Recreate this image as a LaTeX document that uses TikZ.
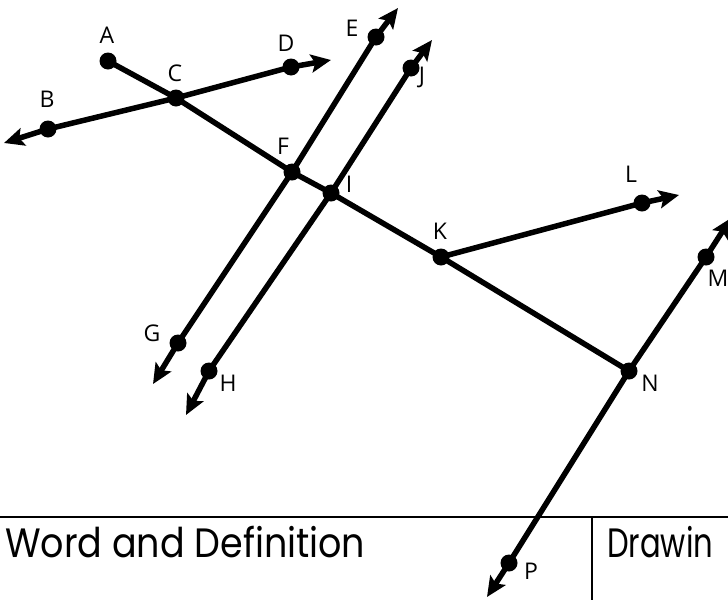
\documentclass[tikz,border=0pt]{standalone}
\usepackage{fontspec}
\setmainfont{Open Sans}
\newfontfamily\headfont{Poppins}
\usetikzlibrary{arrows.meta}
\begin{document}
\begin{tikzpicture}[x=1pt,y=-1pt,
  tip/.tip={Stealth[length=20pt,width=18pt,inset=4pt]},
  seg/.style={line width=5.5pt},
  ray/.style={line width=5.5pt,-tip},
  dbl/.style={line width=5.5pt,tip-tip},
  dot/.style={circle,fill=black,inner sep=0pt,minimum size=17pt},
  lbl/.style={font=\fontsize{23}{23}\selectfont,text depth=0pt,inner sep=0pt},
  head/.style={font=\headfont\fontsize{41}{41}\selectfont,inner sep=0pt,anchor=base west,xscale=0.89},
  rule/.style={line width=2pt}]
\useasboundingbox (0,0) rectangle (728,600);
% points
\coordinate (pA) at (108,61);
\coordinate (pB) at (48,129);
\coordinate (pC) at (176,98);
\coordinate (pD) at (291,67);
\coordinate (pE) at (376,37);
\coordinate (pF) at (292,172);
\coordinate (pG) at (178,343);
\coordinate (pH) at (209,371);
\coordinate (pI) at (331,193);
\coordinate (pJ) at (411,68);
\coordinate (pK) at (441,257);
\coordinate (pL) at (642,203);
\coordinate (pM) at (706,257);
\coordinate (pN) at (629,371);
\coordinate (pP) at (509,563);
% arrow ends
\coordinate (tB) at (4,143);
\coordinate (tD) at (331,60);
\coordinate (tE) at (398,8);
\coordinate (tG) at (153,384);
\coordinate (tH) at (186,415);
\coordinate (tJ) at (432,40);
\coordinate (tL) at (679,195);
\coordinate (tM) at (731,218);
\coordinate (tP) at (487,597);
% table
\draw[rule] (0,517) coordinate (r0) -- (728,517) coordinate (r1);
\draw[rule] (592,517) coordinate (v0) -- (592,600) coordinate (v1);
% lines
\draw[dbl] (tB) -- (pB) -- (pC) -- (pD) -- (tD);
\draw[seg] (pA) -- (pC) -- (pF) -- (pI) -- (pK) -- (pN);
\draw[dbl] (tG) -- (pG) -- (pF) -- (pE) -- (tE);
\draw[dbl] (tH) -- (pH) -- (pI) -- (pJ) -- (tJ);
\draw[ray] (pK) -- (pL) -- (tL);
\draw[dbl] (tP) -- (pP) -- (pN) -- (pM) -- (tM);
% dots
\foreach \p in {A,B,C,D,E,F,G,H,I,J,K,L,M,N,P}
  \node[dot] (\p) at (p\p) {};
% labels
\node[lbl] (lA) at (107,35) {A};
\node[lbl] (lB) at (47,99) {B};
\node[lbl] (lC) at (175,73) {C};
\node[lbl] (lD) at (286,43) {D};
\node[lbl] (lE) at (352,28) {E};
\node[lbl] (lF) at (283,146) {F};
\node[lbl] (lG) at (152,333) {G};
\node[lbl] (lH) at (228,383) {H};
\node[lbl] (lI) at (349,184) {I};
\node[lbl] (lJ) at (422,75) {J};
\node[lbl] (lK) at (440,231) {K};
\node[lbl] (lL) at (631,174) {L};
\node[lbl] (lM) at (718,278) {M};
\node[lbl] (lN) at (650,383) {N};
\node[lbl] (lP) at (531,571) {P};
% headers
\node[head] (word) at (5,557) {Word and Definition};
\node[head,xscale=0.84] (drw) at (607,557) {Drawin};
\end{tikzpicture}
\end{document}
